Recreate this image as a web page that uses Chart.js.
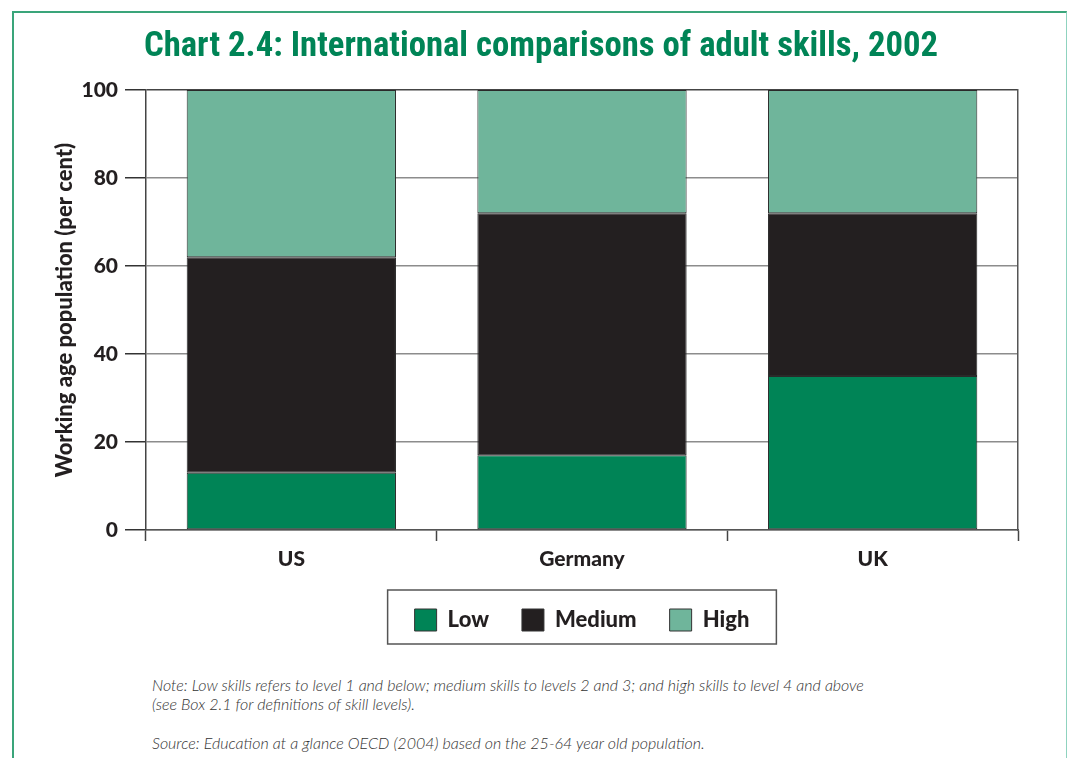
<!DOCTYPE html>
<html>
<head>
<meta charset="utf-8">
<title>International comparisons of adult skills, 2002</title>
<script src="https://cdn.jsdelivr.net/npm/chart.js@4.4.1/dist/chart.umd.min.js"></script>
<style>
  html, body { margin: 0; padding: 0; background: #fff; }
  body { width: 1070px; height: 758px; position: relative; overflow: hidden; }
  .frame {
    position: absolute; left: 12px; top: 11px; width: 1055px; height: 760px;
    border-left: 2px solid #3aa57a; border-top: 2px solid #3aa57a;
    border-right: 1px solid #8fd3bf; box-sizing: border-box;
  }
  #wrap { position: absolute; left: 0; top: 0; width: 1070px; height: 660px; }
  .notes {
    position: absolute; left: 152px; top: 675px; width: 910px;
    font-family: Lato, "Open Sans", sans-serif; font-style: italic; font-weight: 300;
    font-size: 16px; line-height: 19px; color: #333;
  }
  .notes p { margin: 0; }
  .notes p.src { margin-top: 20px; }
</style>
</head>
<body>
<div class="frame"></div>
<div id="wrap"><canvas id="chart" width="1070" height="660"></canvas></div>
<div class="notes">
  <p>Note: Low skills refers to level 1 and below; medium skills to levels 2 and 3; and high skills to level 4 and above<br>(see Box 2.1 for definitions of skill levels).</p>
  <p class="src">Source: Education at a glance OECD (2004) based on the 25-64 year old population.</p>
</div>
<script>
// Countries and share of the working-age population at each skill level (%)
const countries = ['US', 'Germany', 'UK'];
const lowSkills = [13, 17, 35];
const mediumSkills = [49, 55, 37];
const highSkills = [38, 28, 28];
const yTicks = [0, 20, 40, 60, 80, 100];

const seriesNames = ['Low', 'Medium', 'High'];
const seriesColours = ['#008456', '#231f20', '#6fb59b'];

const ink = '#231f20';
const bodyFont = 'Lato, "Open Sans", sans-serif';

// Frame drawn around the legend items
const legendFrame = {
  id: 'legendFrame',
  afterDraw(chart) {
    const boxes = chart.legend && chart.legend.legendHitBoxes;
    if (!boxes || !boxes.length) return;
    const first = boxes[0], last = boxes[boxes.length - 1];
    const left = first.left - 27;
    const right = last.left + last.width + 27;
    const top = first.top - 19;
    const bottom = first.top + first.height + 13;
    const { ctx } = chart;
    ctx.save();
    ctx.strokeStyle = '#555';
    ctx.lineWidth = 1.5;
    ctx.strokeRect(left, top, right - left, bottom - top);
    ctx.restore();
  }
};

const datasets = [lowSkills, mediumSkills, highSkills].map((values, i) => ({
  label: seriesNames[i],
  data: values,
  backgroundColor: seriesColours[i],
  borderColor: '#2a2a2a',
  borderWidth: 1,
  borderSkipped: false,
  barPercentage: 0.72,
  categoryPercentage: 1.0
}));

new Chart(document.getElementById('chart'), {
  type: 'bar',
  data: { labels: countries, datasets },
  plugins: [legendFrame],
  options: {
    responsive: false,
    animation: false,
    layout: { padding: { left: 12, right: 0, top: 0, bottom: 19 } },
    plugins: {
      title: {
        display: true,
        text: 'Chart 2.4: International comparisons of adult skills, 2002',
        color: '#008456',
        font: { family: '"Liberation Sans Narrow", "Roboto Condensed", Lato, sans-serif', size: 34.7, weight: 'bold' },
        padding: { top: 27, bottom: 21.4 }
      },
      legend: {
        position: 'bottom',
        fullSize: false,
        labels: {
          boxWidth: 22,
          boxHeight: 22,
          padding: 33,
          color: ink,
          font: { family: bodyFont, size: 22, weight: '900' },
          generateLabels(chart) {
            return chart.data.datasets.map((ds, i) => ({
              text: ds.label,
              fillStyle: ds.backgroundColor,
              strokeStyle: '#333',
              lineWidth: 1,
              fontColor: ink,
              datasetIndex: i,
              hidden: false
            }));
          }
        }
      },
      tooltip: { enabled: false }
    },
    scales: {
      x: {
        stacked: true,
        afterFit(scale) { scale.height = 46; },
        grid: {
          offset: true,
          drawOnChartArea: false,
          drawTicks: true,
          tickLength: 11,
          tickColor: '#444',
          tickWidth: 1.5
        },
        border: { display: true, color: '#555', width: 1.5 },
        ticks: {
          color: ink,
          padding: 6,
          font: { family: bodyFont, size: 21, weight: '900' }
        }
      },
      y: {
        stacked: true,
        min: 0,
        max: 100,
        afterFit(scale) { scale.width = 134; },
        afterBuildTicks(scale) { scale.ticks = yTicks.map(v => ({ value: v })); },
        grid: {
          color: ctx => (ctx.tick && ctx.tick.value === 100 ? '#444' : '#8c8c8c'),
          lineWidth: 1.5,
          tickLength: 21,
          tickColor: '#333',
          tickWidth: 1.5
        },
        border: { display: true, color: '#444', width: 1.5 },
        ticks: {
          color: ink,
          padding: 7,
          font: { family: bodyFont, size: 21, weight: '900' }
        },
        title: {
          display: true,
          text: 'Working age population (per cent)',
          color: ink,
          padding: { top: 40, bottom: 0 },
          font: { family: bodyFont, size: 22, weight: '900' }
        }
      },
      // Right-hand edge of the plot
      yRight: {
        position: 'right',
        min: 0,
        max: 100,
        afterFit(scale) { scale.width = 52; },
        grid: { display: false },
        ticks: { display: false },
        border: { display: true, color: '#555', width: 1.5 }
      }
    }
  }
});
</script>
</body>
</html>
